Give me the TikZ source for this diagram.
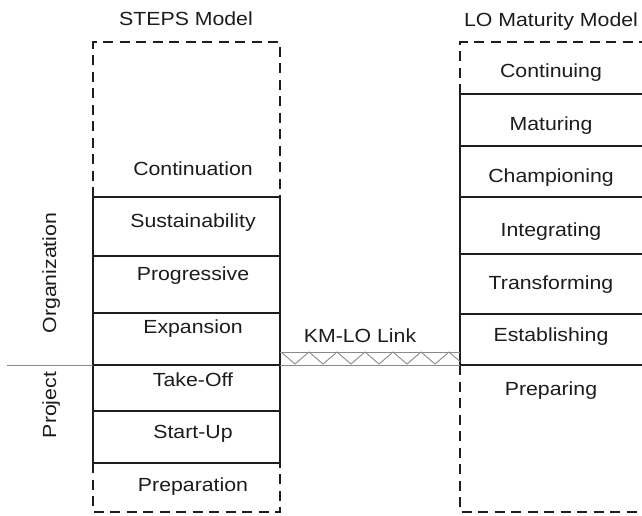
\documentclass[tikz,border=0pt]{standalone}
\usepackage{fontspec}
\setmainfont{Liberation Sans}[FakeStretch=1.12]
\definecolor{linec}{HTML}{1E1E1E}
\definecolor{textc}{HTML}{1C1C1C}
\definecolor{thinc}{HTML}{8A8A8A}
\begin{document}
\begin{tikzpicture}[x=1pt,y=-1pt,
  solidedge/.style={draw=linec, line width=1.9pt},
  dashedge/.style={draw=linec, line width=2.4pt, dash pattern=on 10pt off 6.5pt},
  thinline/.style={draw=thinc, line width=0.9pt},
  lbl/.style={font=\fontsize{19}{22}\selectfont, text=textc, inner sep=0pt, anchor=base},
  sidelbl/.style={lbl, rotate=90},
]
\useasboundingbox (0,0) rectangle (642,515);
\clip (0,0) rectangle (642,515);

% ---------- STEPS model column ----------
% dashed continuation part (top) and preparation part (bottom)
\draw[dashedge] (93,197) -- (93,42) -- (280,42) -- (280,197);
\draw[dashedge] (93,463) -- (93,512) -- (280,512) -- (280,463);
% solid stages
\draw[solidedge] (93,197) rectangle (280,463);
\foreach \yy in {256,313,365,411}
  \draw[solidedge] (93,\yy) -- (280,\yy);

% ---------- LO maturity model column ----------
\draw[dashedge] (460,94) -- (460,42) -- (650,42);
\draw[dashedge] (460,365) -- (460,512) -- (650,512);
\draw[solidedge] (650,94) -- (460,94) -- (460,365) -- (650,365);
\foreach \yy in {146,197,254,314}
  \draw[solidedge] (460,\yy) -- (650,\yy);

% ---------- organization / project divider ----------
\coordinate (divL) at (7,365);
\coordinate (divS) at (93,365);
\draw[thinline] (divL) -- (divS);

% ---------- KM-LO link ----------
\coordinate (linkA) at (280,352);
\coordinate (linkB) at (460,352);
\coordinate (linkC) at (280,365);
\coordinate (linkD) at (460,365);
\draw[thinline] (linkA) -- (linkB);
\draw[thinline] (linkC) -- (linkD);
\draw[thinline, line join=miter]
  (281,352) -- (295,364) -- (309,352) -- (323,364) -- (337,352) -- (351,364)
  -- (365,352) -- (379,364) -- (393,352) -- (407,364) -- (421,352) -- (435,364)
  -- (449,352) -- (460,361.5);

% ---------- titles ----------
\node[lbl] (tSteps) at (186,25.5) {STEPS Model};
\node[lbl] (tLO) at (551,26) {LO Maturity Model};

% ---------- STEPS stages ----------
\node[lbl] (continuation) at (193,175) {Continuation};
\node[lbl] (sustain) at (193,227.3) {Sustainability};
\node[lbl] (progress) at (193,280) {Progressive};
\node[lbl] (expansion) at (193,333.3) {Expansion};
\node[lbl] (takeoff) at (193,386) {Take-Off};
\node[lbl] (startup) at (193,438.3) {Start-Up};
\node[lbl] (preparation) at (193,491.7) {Preparation};

% ---------- LO maturity stages ----------
\node[lbl] (continuing) at (551,77) {Continuing};
\node[lbl] (maturing) at (551,130.5) {Maturing};
\node[lbl] (championing) at (551,182.7) {Championing};
\node[lbl] (integrating) at (551,236.7) {Integrating};
\node[lbl] (transforming) at (551,289.3) {Transforming};
\node[lbl] (establishing) at (551,341.7) {Establishing};
\node[lbl] (preparing) at (551,395) {Preparing};

% ---------- link label and side labels ----------
\node[lbl] (kmlo) at (360,342.7) {KM-LO Link};
\node[sidelbl] (organization) at (56,273) {Organization};
\node[sidelbl] (project) at (56,405) {Project};
\end{tikzpicture}
\end{document}
